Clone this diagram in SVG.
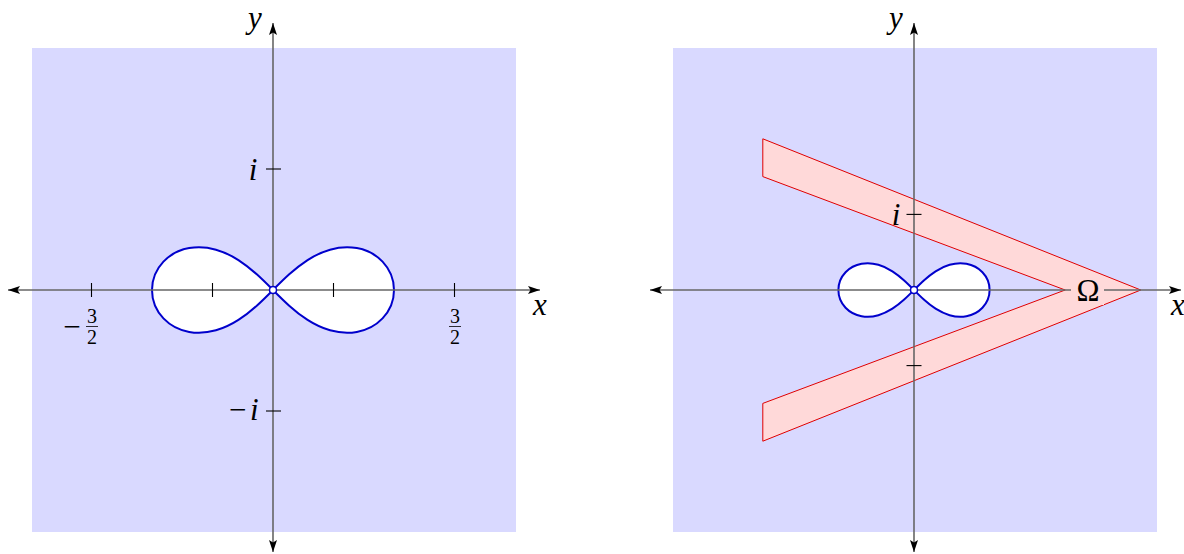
<svg xmlns="http://www.w3.org/2000/svg" width="1184" height="554" viewBox="0 0 1184 554">
<style>
.bg{fill:#d9d9ff;stroke:none}
.axis{stroke:#666;stroke-width:1.6;fill:none}
.tick{stroke:#000;stroke-width:1.1}
.lem{fill:#fff;stroke:#0000cc;stroke-width:2;vector-effect:non-scaling-stroke}
.org{fill:#fff;stroke:#0000cc;stroke-width:1.5}
.lbl{font-family:"Liberation Serif","DejaVu Serif",serif;font-size:31px;fill:#000}
.it{font-style:italic}
.num{font-family:"Liberation Serif","DejaVu Serif",serif;font-size:20px;fill:#000;text-anchor:middle}
.bar{stroke:#000;stroke-width:0.8}
.omega{fill:#ffd9d9;stroke:#e00000;stroke-width:1}
</style>
<defs>
<marker id="arr" viewBox="0 0 12 8" refX="12" refY="4" markerWidth="12" markerHeight="8" markerUnits="userSpaceOnUse" orient="auto-start-reverse">
<path d="M0,0 L12,4 L0,8 L2.5,4 Z" fill="#000"/>
</marker>
<path id="lemR" d="M1,0 C1,0.08727 0.96352,0.17306 0.90533,0.23431 C0.84714,0.29556 0.76961,0.33245 0.69282,0.34641 C0.61603,0.36037 0.53996,0.35272 0.47140,0.33333 C0.40284,0.31394 0.34124,0.28306 0.28571,0.24744 C0.23018,0.21182 0.18060,0.17143 0.13397,0.12941 C0.08734,0.08739 0.04363,0.04363 0,0 C0.04363,-0.04363 0.08734,-0.08739 0.13397,-0.12941 C0.18060,-0.17143 0.23018,-0.21182 0.28571,-0.24744 C0.34124,-0.28306 0.40284,-0.31394 0.47140,-0.33333 C0.53996,-0.35272 0.61603,-0.36037 0.69282,-0.34641 C0.76961,-0.33245 0.84714,-0.29556 0.90533,-0.23431 C0.96352,-0.17306 1,-0.08727 1,0 Z M-1,0 C-1,0.08727 -0.96352,0.17306 -0.90533,0.23431 C-0.84714,0.29556 -0.76961,0.33245 -0.69282,0.34641 C-0.61603,0.36037 -0.53996,0.35272 -0.47140,0.33333 C-0.40284,0.31394 -0.34124,0.28306 -0.28571,0.24744 C-0.23018,0.21182 -0.18060,0.17143 -0.13397,0.12941 C-0.08734,0.08739 -0.04363,0.04363 0,0 C-0.04363,-0.04363 -0.08734,-0.08739 -0.13397,-0.12941 C-0.18060,-0.17143 -0.23018,-0.21182 -0.28571,-0.24744 C-0.34124,-0.28306 -0.40284,-0.31394 -0.47140,-0.33333 C-0.53996,-0.35272 -0.61603,-0.36037 -0.69282,-0.34641 C-0.76961,-0.33245 -0.84714,-0.29556 -0.90533,-0.23431 C-0.96352,-0.17306 -1,-0.08727 -1,0 Z"/>
</defs>

<g id="left-panel">
<rect class="bg" x="32" y="48" width="484" height="484"/>
<path class="lem" transform="translate(273,290) scale(121,-121)" d="M1,0 C1,0.08727 0.96352,0.17306 0.90533,0.23431 C0.84714,0.29556 0.76961,0.33245 0.69282,0.34641 C0.61603,0.36037 0.53996,0.35272 0.47140,0.33333 C0.40284,0.31394 0.34124,0.28306 0.28571,0.24744 C0.23018,0.21182 0.18060,0.17143 0.13397,0.12941 C0.08734,0.08739 0.04363,0.04363 0,0 C0.04363,-0.04363 0.08734,-0.08739 0.13397,-0.12941 C0.18060,-0.17143 0.23018,-0.21182 0.28571,-0.24744 C0.34124,-0.28306 0.40284,-0.31394 0.47140,-0.33333 C0.53996,-0.35272 0.61603,-0.36037 0.69282,-0.34641 C0.76961,-0.33245 0.84714,-0.29556 0.90533,-0.23431 C0.96352,-0.17306 1,-0.08727 1,0 Z M-1,0 C-1,0.08727 -0.96352,0.17306 -0.90533,0.23431 C-0.84714,0.29556 -0.76961,0.33245 -0.69282,0.34641 C-0.61603,0.36037 -0.53996,0.35272 -0.47140,0.33333 C-0.40284,0.31394 -0.34124,0.28306 -0.28571,0.24744 C-0.23018,0.21182 -0.18060,0.17143 -0.13397,0.12941 C-0.08734,0.08739 -0.04363,0.04363 0,0 C-0.04363,-0.04363 -0.08734,-0.08739 -0.13397,-0.12941 C-0.18060,-0.17143 -0.23018,-0.21182 -0.28571,-0.24744 C-0.34124,-0.28306 -0.40284,-0.31394 -0.47140,-0.33333 C-0.53996,-0.35272 -0.61603,-0.36037 -0.69282,-0.34641 C-0.76961,-0.33245 -0.84714,-0.29556 -0.90533,-0.23431 C-0.96352,-0.17306 -1,-0.08727 -1,0 Z"/>
<g id="left-axes">
<line class="axis" x1="8" y1="290" x2="540" y2="290" marker-start="url(#arr)" marker-end="url(#arr)"/>
<line class="axis" x1="273" y1="552" x2="273" y2="23" marker-start="url(#arr)" marker-end="url(#arr)"/>
</g>
<g id="left-ticks">
<line class="tick" x1="91.5" y1="283" x2="91.5" y2="297"/>
<line class="tick" x1="212.5" y1="283" x2="212.5" y2="297"/>
<line class="tick" x1="333.5" y1="283" x2="333.5" y2="297"/>
<line class="tick" x1="454.5" y1="283" x2="454.5" y2="297"/>
<line class="tick" x1="266" y1="169" x2="281" y2="169"/>
<line class="tick" x1="266" y1="411" x2="281" y2="411"/>
</g>
<circle class="org" cx="273" cy="290" r="3.5"/>
<g id="left-labels">
<text class="lbl it" x="255" y="28" text-anchor="middle">y</text>
<text class="lbl it" x="540" y="315" text-anchor="middle">x</text>
<text class="lbl it" x="253" y="180" text-anchor="middle">i</text>
<text class="lbl it" x="227 250" y="420">−i</text>
<text class="lbl" x="72" y="337" text-anchor="middle">−</text>
<text class="num" x="92" y="323">3</text>
<line class="bar" x1="86" y1="326.5" x2="98" y2="326.5"/>
<text class="num" x="92" y="344">2</text>
<text class="num" x="455" y="323">3</text>
<line class="bar" x1="449" y1="326.5" x2="461" y2="326.5"/>
<text class="num" x="455" y="344">2</text>
</g>
</g>

<g id="right-panel">
<rect class="bg" x="673" y="48" width="484" height="484"/>
<polygon id="omega-region" class="omega" points="762.8,138.8 1140.8,290 762.8,441.2 762.8,403.4 1065.2,290 762.8,176.6"/>
<path class="lem" transform="translate(914,290) scale(75.6,-75.6)" d="M1,0 C1,0.08727 0.96352,0.17306 0.90533,0.23431 C0.84714,0.29556 0.76961,0.33245 0.69282,0.34641 C0.61603,0.36037 0.53996,0.35272 0.47140,0.33333 C0.40284,0.31394 0.34124,0.28306 0.28571,0.24744 C0.23018,0.21182 0.18060,0.17143 0.13397,0.12941 C0.08734,0.08739 0.04363,0.04363 0,0 C0.04363,-0.04363 0.08734,-0.08739 0.13397,-0.12941 C0.18060,-0.17143 0.23018,-0.21182 0.28571,-0.24744 C0.34124,-0.28306 0.40284,-0.31394 0.47140,-0.33333 C0.53996,-0.35272 0.61603,-0.36037 0.69282,-0.34641 C0.76961,-0.33245 0.84714,-0.29556 0.90533,-0.23431 C0.96352,-0.17306 1,-0.08727 1,0 Z M-1,0 C-1,0.08727 -0.96352,0.17306 -0.90533,0.23431 C-0.84714,0.29556 -0.76961,0.33245 -0.69282,0.34641 C-0.61603,0.36037 -0.53996,0.35272 -0.47140,0.33333 C-0.40284,0.31394 -0.34124,0.28306 -0.28571,0.24744 C-0.23018,0.21182 -0.18060,0.17143 -0.13397,0.12941 C-0.08734,0.08739 -0.04363,0.04363 0,0 C-0.04363,-0.04363 -0.08734,-0.08739 -0.13397,-0.12941 C-0.18060,-0.17143 -0.23018,-0.21182 -0.28571,-0.24744 C-0.34124,-0.28306 -0.40284,-0.31394 -0.47140,-0.33333 C-0.53996,-0.35272 -0.61603,-0.36037 -0.69282,-0.34641 C-0.76961,-0.33245 -0.84714,-0.29556 -0.90533,-0.23431 C-0.96352,-0.17306 -1,-0.08727 -1,0 Z"/>
<g id="right-axes">
<line class="axis" x1="650" y1="290" x2="1181" y2="290" marker-start="url(#arr)" marker-end="url(#arr)"/>
<line class="axis" x1="914" y1="552" x2="914" y2="23" marker-start="url(#arr)" marker-end="url(#arr)"/>
</g>
<g id="right-ticks">
<line class="tick" x1="906.5" y1="214.4" x2="921.5" y2="214.4"/>
<line class="tick" x1="906.5" y1="365.6" x2="921.5" y2="365.6"/>
</g>
<circle class="org" cx="914" cy="290" r="3.5"/>
<g id="omega-label">
<rect x="1071" y="276" width="33" height="29" fill="#ffd9d9"/>
<text class="lbl" x="1088" y="301" text-anchor="middle">Ω</text>
</g>
<g id="right-labels">
<text class="lbl it" x="896" y="28" text-anchor="middle">y</text>
<text class="lbl it" x="1178" y="315" text-anchor="middle">x</text>
<text class="lbl it" x="896" y="225" text-anchor="middle">i</text>
</g>
</g>
</svg>
